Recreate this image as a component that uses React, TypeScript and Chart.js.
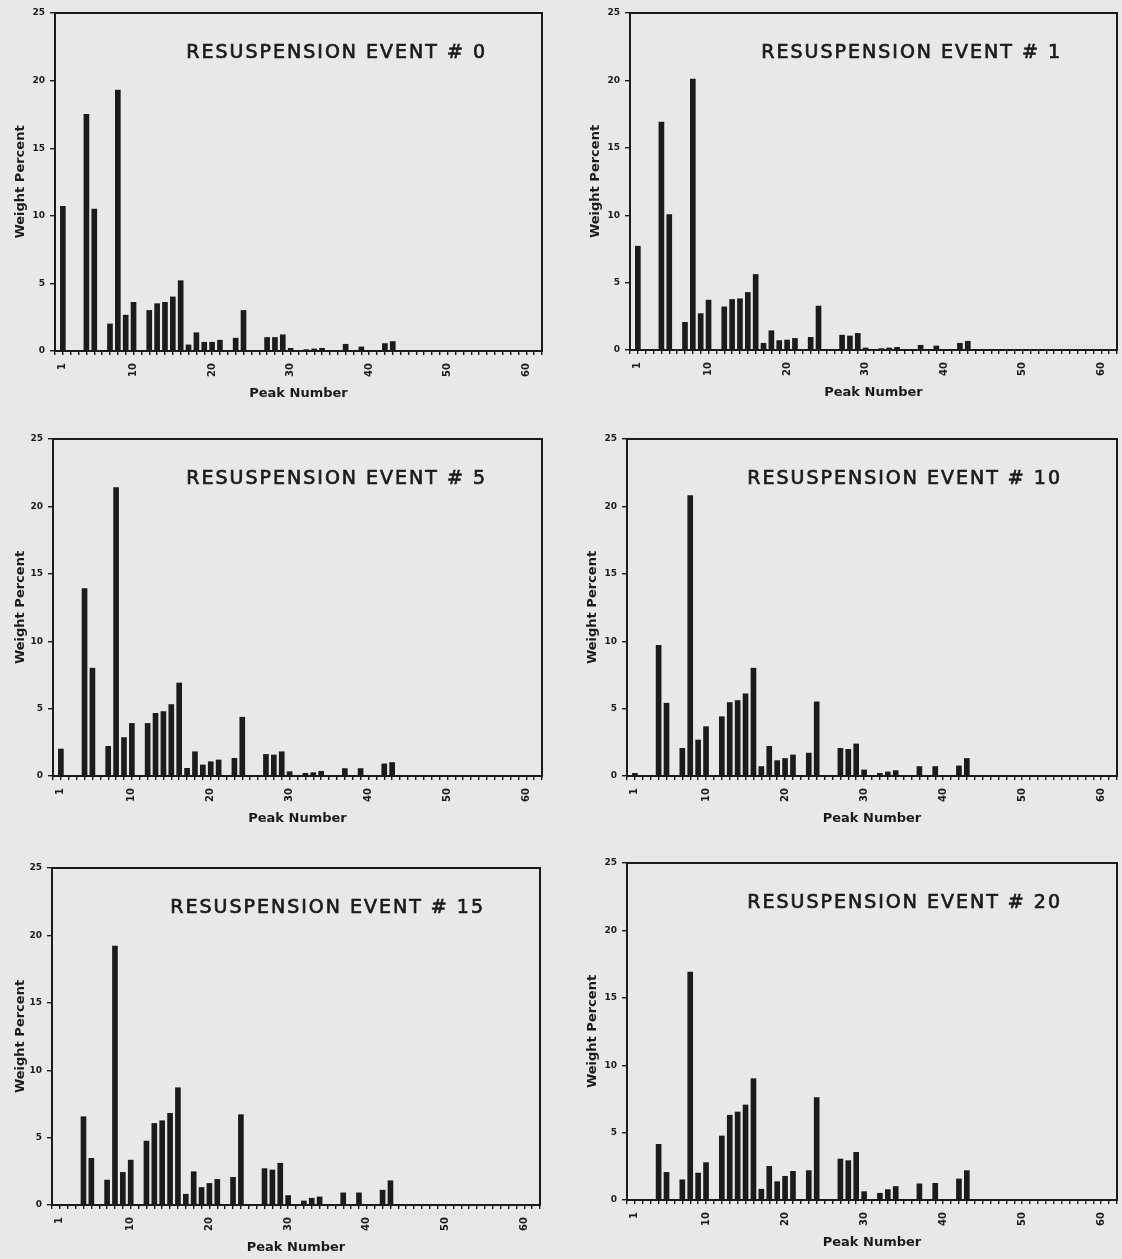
import React, { useEffect, useRef } from 'react';
import { Chart, registerables } from 'chart.js';

Chart.register(...registerables);

// ---------------- data ----------------
const peakNumbers = [1, 4, 5, 7, 8, 9, 10, 12, 13, 14, 15, 16, 17, 18, 19, 20, 21, 23, 24, 27, 28, 29, 30, 32, 33, 34, 37, 39, 42, 43];

const event0 = [10.7, 17.5, 10.5, 2.0, 19.3, 2.65, 3.6, 3.0, 3.5, 3.6, 4.0, 5.2, 0.45, 1.35, 0.65, 0.65, 0.8, 0.95, 3.0, 1.0, 1.0, 1.2, 0.2, 0.1, 0.15, 0.2, 0.5, 0.3, 0.55, 0.7];
const event1 = [7.7, 16.9, 10.05, 2.05, 20.1, 2.7, 3.7, 3.2, 3.75, 3.8, 4.27, 5.6, 0.5, 1.43, 0.7, 0.74, 0.86, 0.94, 3.26, 1.1, 1.04, 1.23, 0.15, 0.1, 0.15, 0.2, 0.35, 0.3, 0.5, 0.65];
const event5 = [2.0, 13.9, 8.0, 2.2, 21.4, 2.85, 3.9, 3.9, 4.65, 4.78, 5.3, 6.9, 0.57, 1.8, 0.82, 1.06, 1.19, 1.31, 4.36, 1.6, 1.56, 1.8, 0.32, 0.2, 0.25, 0.35, 0.55, 0.55, 0.9, 1.0];
const event10 = [0.2, 9.7, 5.4, 2.05, 20.8, 2.67, 3.66, 4.4, 5.45, 5.6, 6.1, 8.0, 0.7, 2.2, 1.14, 1.3, 1.56, 1.7, 5.5, 2.05, 1.98, 2.38, 0.45, 0.2, 0.3, 0.4, 0.7, 0.7, 0.75, 1.3];
const event15 = [0, 6.55, 3.46, 1.85, 19.2, 2.42, 3.33, 4.74, 6.05, 6.25, 6.8, 8.7, 0.8, 2.47, 1.3, 1.6, 1.9, 2.05, 6.7, 2.7, 2.6, 3.1, 0.7, 0.3, 0.5, 0.6, 0.9, 0.9, 1.1, 1.8];
const event20 = [0, 4.13, 2.05, 1.5, 16.9, 2.0, 2.77, 4.75, 6.29, 6.53, 7.05, 9.0, 0.8, 2.5, 1.36, 1.76, 2.13, 2.18, 7.6, 3.04, 2.92, 3.54, 0.62, 0.5, 0.77, 1.0, 1.2, 1.24, 1.56, 2.18];

const xTickLabels = [1, 10, 20, 30, 40, 50, 60];
const yTicks = [0, 5, 10, 15, 20, 25];
const xAxisMax = 62;

// ---------------- layout ----------------
const INK = '#1b1b1b';
const FONT = '"DejaVu Sans", "Liberation Sans", sans-serif';

type PanelSpec = {
  eventNo: number;
  values: number[];
  left: number; top: number; width: number; height: number;
  yw: number; xh: number; pt: number; pr: number;
};

const panels: PanelSpec[] = [
  { eventNo: 0, values: event0, left: 0, top: 0, width: 560, height: 410, yw: 55, xh: 59, pt: 13, pr: 18 },
  { eventNo: 1, values: event1, left: 575, top: 0, width: 547, height: 410, yw: 55, xh: 60, pt: 13, pr: 5 },
  { eventNo: 5, values: event5, left: 0, top: 425, width: 560, height: 410, yw: 53, xh: 59, pt: 14, pr: 18 },
  { eventNo: 10, values: event10, left: 572, top: 425, width: 550, height: 410, yw: 55, xh: 59, pt: 14, pr: 5 },
  { eventNo: 15, values: event15, left: 0, top: 853, width: 560, height: 406, yw: 52, xh: 54, pt: 15, pr: 20 },
  { eventNo: 20, values: event20, left: 572, top: 850, width: 550, height: 409, yw: 55, xh: 59, pt: 13, pr: 5 },
];

const framePlugin = {
  id: 'panelFrame',
  afterDraw(chart: any, _args: any, opts: any) {
    const { ctx, chartArea } = chart;
    ctx.save();
    ctx.strokeStyle = INK;
    ctx.lineWidth = 2;
    ctx.strokeRect(chartArea.left, chartArea.top, chartArea.right - chartArea.left, chartArea.bottom - chartArea.top);
    ctx.font = '19px ' + FONT;
    try { (ctx as any).letterSpacing = '2px'; } catch (e) { /* ignore */ }
    ctx.textAlign = 'right';
    ctx.textBaseline = 'middle';
    ctx.fillStyle = INK;
    ctx.lineWidth = 0.7;
    const tx = chartArea.right - 55;
    const ty = chartArea.top + 40;
    ctx.fillText(opts.text, tx, ty);
    ctx.strokeText(opts.text, tx, ty);
    ctx.restore();
  },
};

function Panel({ spec }: { spec: PanelSpec }) {
  const ref = useRef<HTMLCanvasElement | null>(null);
  useEffect(() => {
    if (!ref.current) return;
    const titleH = 13 * 1.2;
    const chart = new Chart(ref.current, {
      type: 'bar',
      data: {
        datasets: [
          {
            data: peakNumbers.map((p, i) => ({ x: p, y: spec.values[i] })),
            backgroundColor: INK,
            borderWidth: 0,
            barThickness: 5,
          } as any,
        ],
      },
      options: {
        animation: false,
        responsive: false,
        layout: { padding: { top: spec.pt, right: spec.pr, left: 0, bottom: 0 } },
        plugins: {
          legend: { display: false },
          tooltip: { enabled: false },
          panelFrame: { text: 'RESUSPENSION EVENT # ' + spec.eventNo },
        } as any,
        scales: {
          x: {
            type: 'linear',
            min: 0,
            max: xAxisMax,
            offset: false,
            afterFit: (s: any) => {
              s.height = spec.xh;
              s.paddingLeft = 0;
              s.paddingRight = 0;
            },
            border: { display: false },
            grid: { offset: false, drawOnChartArea: false, drawTicks: true, tickLength: 4, color: INK, lineWidth: 1.4 },
            ticks: {
              stepSize: 1,
              autoSkip: false,
              maxTicksLimit: 200,
              minRotation: 90,
              maxRotation: 90,
              padding: 8,
              color: INK,
              font: { family: FONT, size: 10, weight: 'bold' },
              callback: (v: any) => (xTickLabels.includes(Number(v)) ? String(v) : ''),
            },
            title: {
              display: true,
              text: 'Peak Number',
              color: INK,
              font: { family: FONT, size: 13, weight: 'bold' },
              padding: { top: 0, bottom: Math.max(0, spec.xh - 43 - titleH / 2) },
            },
          } as any,
          y: {
            type: 'linear',
            min: 0,
            max: 25,
            afterFit: (s: any) => {
              s.width = spec.yw;
              s.paddingTop = 0;
              s.paddingBottom = 0;
            },
            afterBuildTicks: (s: any) => { s.ticks = yTicks.map((v) => ({ value: v })); },
            border: { display: false },
            grid: { drawOnChartArea: false, drawTicks: true, tickLength: 5, color: INK, lineWidth: 1.4 },
            ticks: {
              padding: 5,
              color: INK,
              font: { family: FONT, size: 9, weight: 'bold' },
            },
            title: {
              display: true,
              text: 'Weight Percent',
              color: INK,
              font: { family: FONT, size: 13, weight: 'bold' },
              padding: { top: 13, bottom: 0 },
            },
          } as any,
        },
      },
      plugins: [framePlugin],
    });
    return () => chart.destroy();
  }, [spec]);

  return (
    <canvas
      ref={ref}
      width={spec.width}
      height={spec.height}
      style={{ position: 'absolute', left: spec.left, top: spec.top, width: spec.width, height: spec.height }}
    />
  );
}

export default function App() {
  return (
    <div
      style={{
        position: 'absolute',
        left: 0,
        top: 0,
        width: 1122,
        height: 1259,
        background: '#e8e8e8',
        overflow: 'hidden',
      }}
    >
      {panels.map((p) => (
        <Panel key={p.eventNo} spec={p} />
      ))}
    </div>
  );
}
